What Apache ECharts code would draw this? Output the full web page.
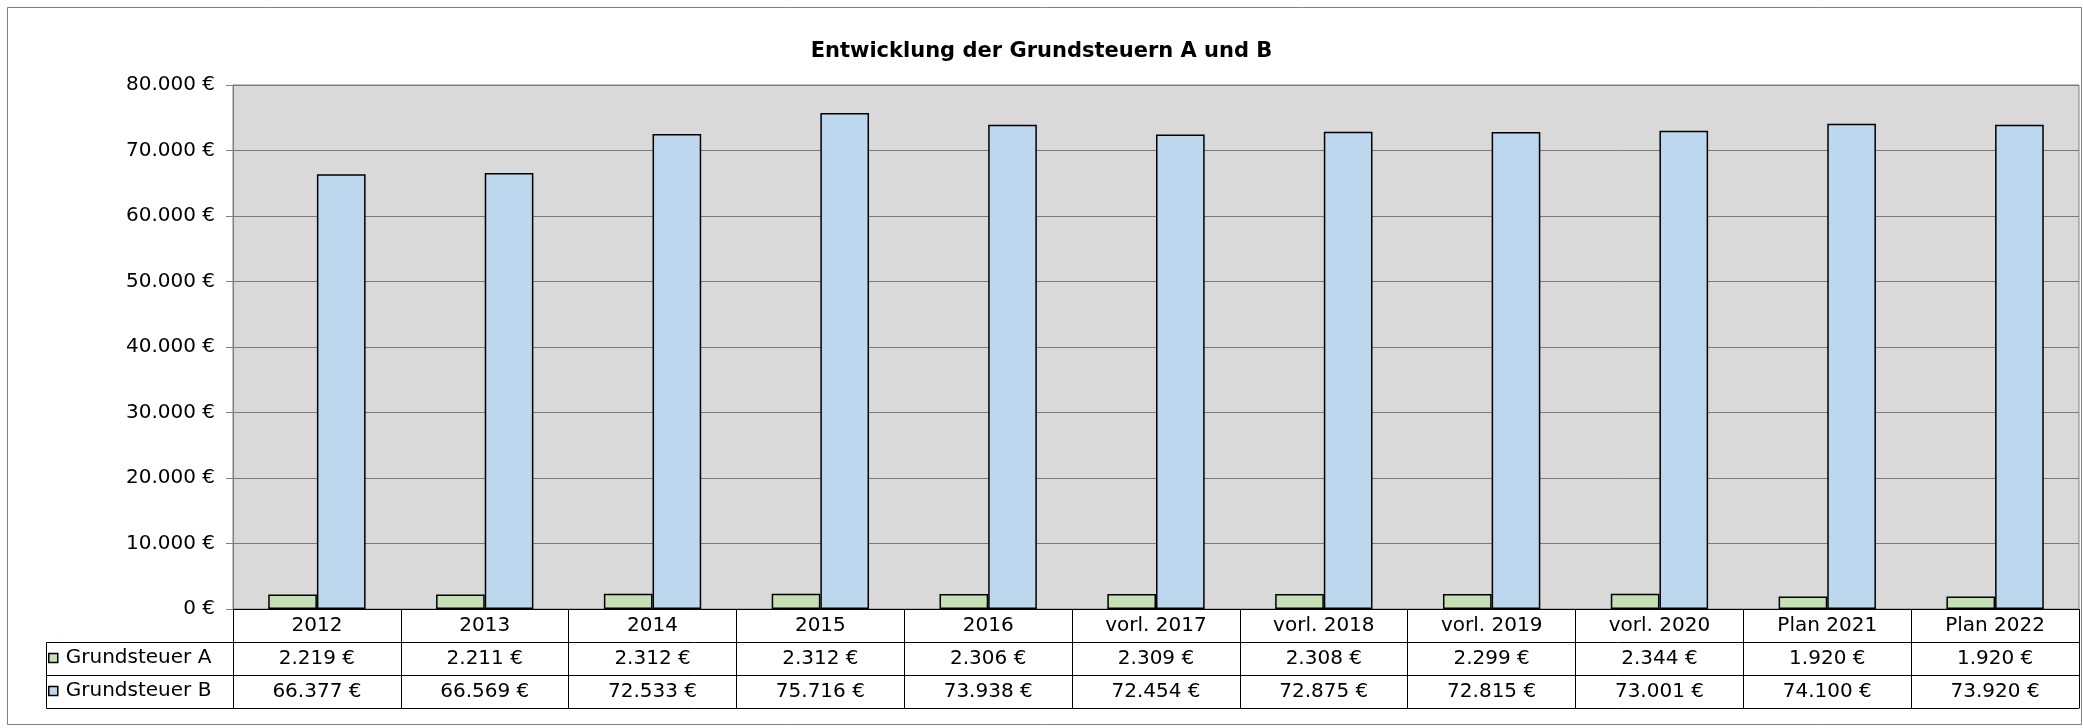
<!DOCTYPE html>
<html>
<head>
<meta charset="utf-8">
<script src="https://cdn.jsdelivr.net/npm/echarts@6/dist/echarts.min.js"></script>
<style>
  html, body { margin: 0; padding: 0; background: #fff; }
  #chart { width: 2083px; height: 728px; }
</style>
</head>
<body>
<div id="chart"></div>
<script>
const categories = ["2012", "2013", "2014", "2015", "2016", "vorl. 2017", "vorl. 2018", "vorl. 2019", "vorl. 2020", "Plan 2021", "Plan 2022"];
const steuerA = [2219, 2211, 2312, 2312, 2306, 2309, 2308, 2299, 2344, 1920, 1920];
const steuerB = [66377, 66569, 72533, 75716, 73938, 72454, 72875, 72815, 73001, 74100, 73920];
const yTicks = { min: 0, max: 80000, interval: 10000 };

const FONT = "DejaVu Sans, Liberation Sans, sans-serif";
const euro = v => String(v).replace(/\B(?=(\d{3})+(?!\d))/g, ".") + " €";

// table / plot layout
const plotLeft = 233, plotTop = 85, plotBottom = 609, rowH = 33, tableLeft = 46;

const chart = echarts.init(document.getElementById("chart"));

const tableAxis = (data, offset, showLabel) => ({
  type: "category",
  position: "bottom",
  offset: offset,
  data: data,
  axisLine: { show: true, lineStyle: { color: "#000", width: 1 } },
  axisTick: { show: showLabel, interval: 0, length: rowH, lineStyle: { color: "#000", width: 1 } },
  axisLabel: {
    show: showLabel, interval: 0, margin: 7,
    color: "#000", fontSize: 20, fontFamily: FONT
  },
  splitLine: { show: false }
});

const legendBase = {
  orient: "vertical",
  left: 48,
  padding: 0,
  icon: "rect",
  itemWidth: 9,
  itemHeight: 9,
  selectedMode: false,
  itemStyle: { borderColor: "#000", borderWidth: 1.5 },
  textStyle: { color: "#000", fontSize: 20, fontFamily: FONT, padding: [0, 0, 0, 3] }
};

chart.setOption({
  animation: false,
  backgroundColor: "#fff",
  textStyle: { fontFamily: FONT },
  title: {
    text: "Entwicklung der Grundsteuern A und B",
    left: "center",
    top: 36,
    textStyle: { fontSize: 21, fontWeight: "bold", color: "#000", fontFamily: FONT }
  },
  legend: [
    Object.assign({}, legendBase, { data: ["Grundsteuer A"], top: plotBottom + rowH + 6 }),
    Object.assign({}, legendBase, { data: ["Grundsteuer B"], top: plotBottom + rowH * 2 + 6 })
  ],
  grid: {
    left: plotLeft, right: 4, top: plotTop, bottom: 728 - plotBottom,
    show: true, backgroundColor: "#d9d9d9", borderColor: "#808080", borderWidth: 1
  },
  xAxis: [
    tableAxis(categories, 0, true),
    tableAxis(steuerA.map(euro), rowH, true),
    tableAxis(steuerB.map(euro), rowH * 2, true),
    tableAxis(categories, rowH * 3, false)
  ],
  yAxis: {
    type: "value",
    min: yTicks.min, max: yTicks.max, interval: yTicks.interval,
    axisLine: { show: true, lineStyle: { color: "#808080", width: 1 } },
    axisTick: { show: true, length: 7, lineStyle: { color: "#808080" } },
    axisLabel: { color: "#000", fontSize: 20, fontFamily: FONT, margin: 18, formatter: euro },
    splitLine: { lineStyle: { color: "#7a7a7a", width: 1 } }
  },
  series: [
    {
      name: "Grundsteuer A", type: "bar", data: steuerA,
      barGap: "0%", barCategoryGap: "42%",
      itemStyle: { color: "#c5e0b4", borderColor: "#000", borderWidth: 1.5 }
    },
    {
      name: "Grundsteuer B", type: "bar", data: steuerB,
      barGap: "0%", barCategoryGap: "42%",
      itemStyle: { color: "#bdd7ee", borderColor: "#000", borderWidth: 1.5 }
    }
  ],
  graphic: [
    // outer chart frame
    { type: "rect", shape: { x: 7.5, y: 7.5, width: 2074, height: 717 },
      style: { fill: null, stroke: "#808080", lineWidth: 1 }, silent: true },
    // legend cells of the data table
    { type: "rect", shape: { x: tableLeft + 0.5, y: plotBottom + rowH + 0.5, width: plotLeft - tableLeft, height: rowH * 2 },
      style: { fill: null, stroke: "#000", lineWidth: 1 }, silent: true },
    { type: "line", shape: { x1: tableLeft, y1: plotBottom + rowH * 2 + 0.5, x2: plotLeft, y2: plotBottom + rowH * 2 + 0.5 },
      style: { stroke: "#000", lineWidth: 1 }, silent: true }
  ]
});
</script>
</body>
</html>
